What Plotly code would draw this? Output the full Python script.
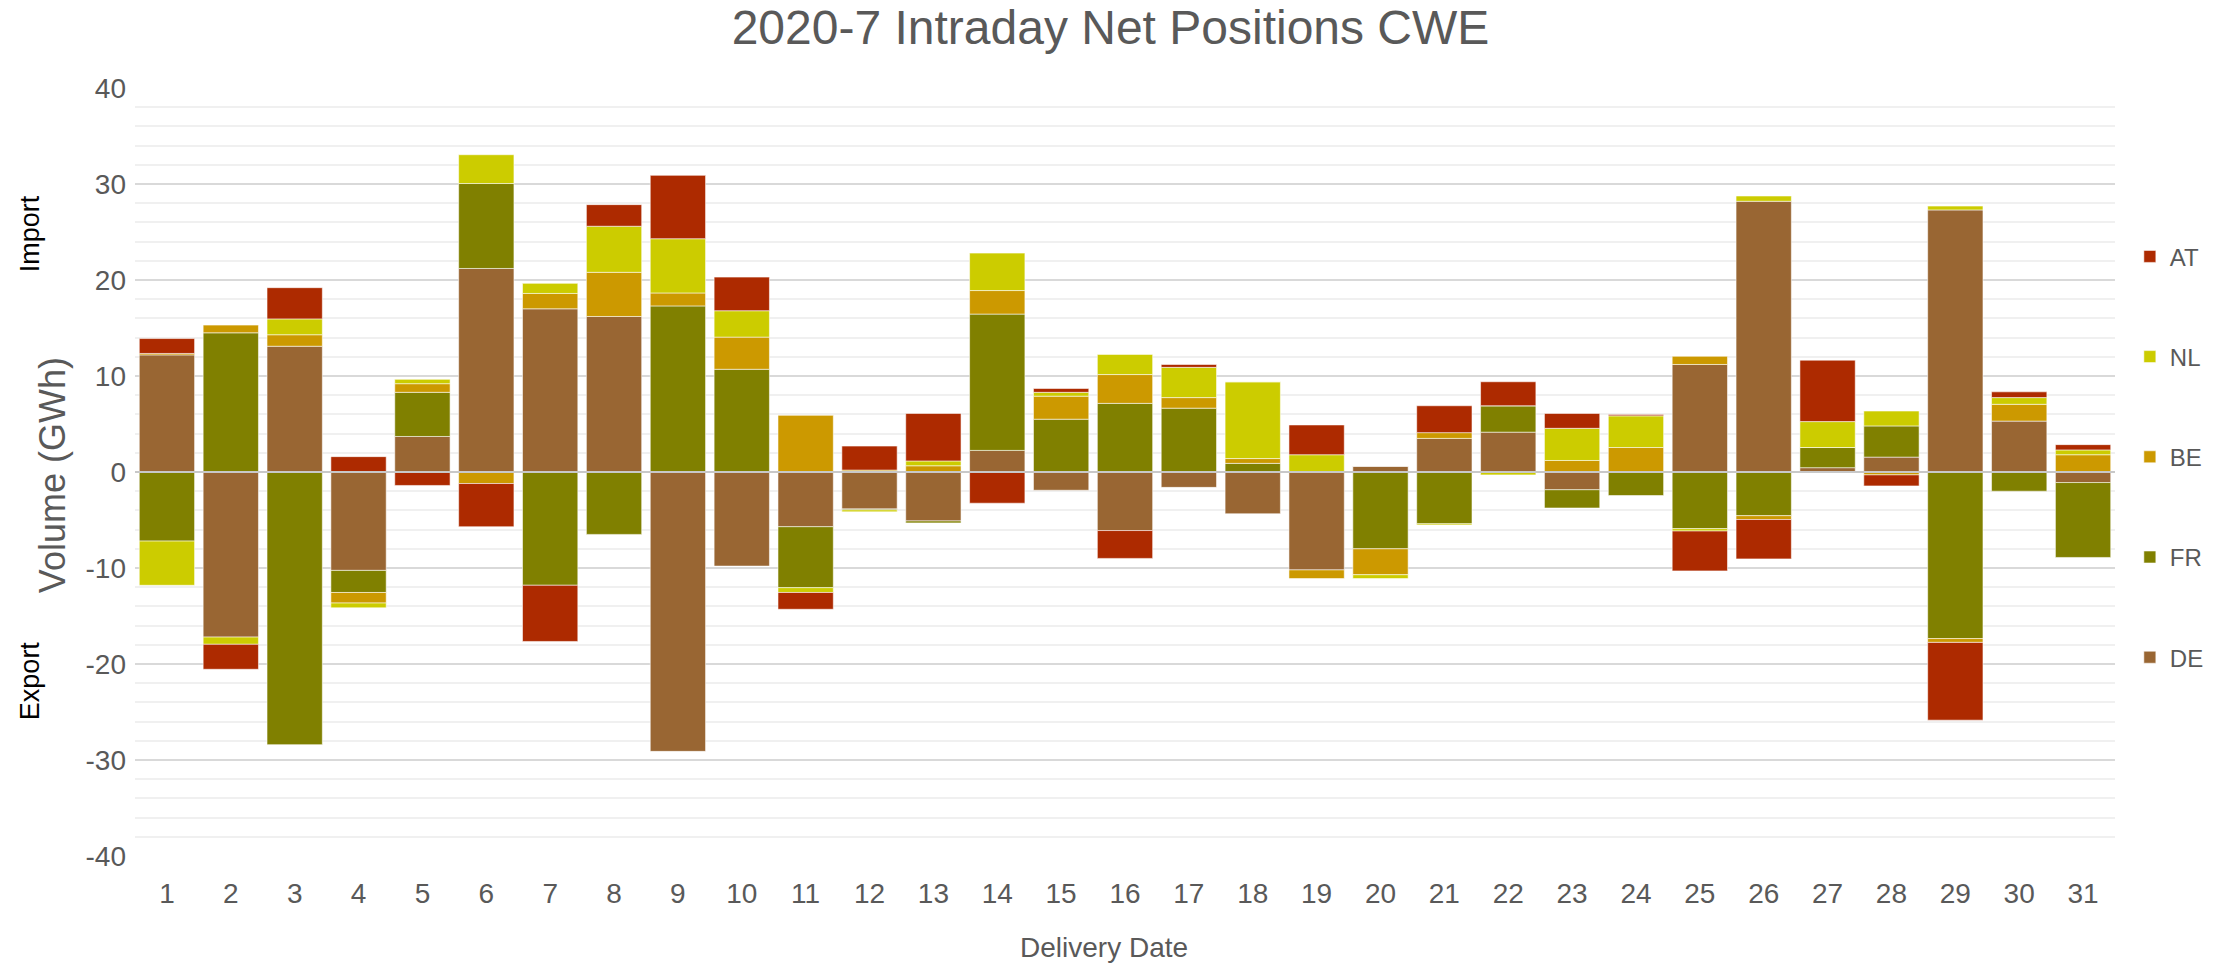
import plotly.graph_objects as go

days = list(range(1, 32))
day_labels = [str(d) for d in days]

DE = [12.2, -17.2, 13.1, -10.25, 3.7, 21.2, 17.0, 16.2, -29.1, -9.8,
      -5.7, -3.85, -5.1, 2.25, -1.9, -6.1, -1.6, -4.35, -10.2, 0.6,
      3.5, 4.15, -1.85, 0.0, 11.2, 28.2, 0.45, 1.55, 27.3, 5.3, -1.1]
FR = [-7.2, 14.5, -28.4, -2.3, 4.6, 8.85, -11.8, -6.5, 17.3, 10.7,
      -6.35, -0.1, -0.2, 14.2, 5.5, 7.15, 6.65, 0.9, 0.0, -8.0,
      -5.4, 2.75, -1.9, -2.45, -5.9, -4.55, 2.1, 3.25, -17.35, -2.0, -7.8]
BE = [0.15, 0.8, 1.2, -1.1, 0.9, -1.2, 1.6, 4.6, 1.35, 3.35,
      5.9, 0.2, 0.65, 2.45, 2.4, 3.0, 1.1, 0.5, -0.9, -2.7,
      0.6, 0.0, 1.2, 2.55, 0.85, -0.4, 0.0, -0.3, -0.4, 1.75, 1.8]
NL = [-4.6, -0.75, 1.65, -0.5, 0.45, 3.0, 1.05, 4.8, 5.65, 2.75,
      -0.5, -0.2, 0.5, 3.9, 0.4, 2.1, 3.15, 8.0, 1.8, -0.4,
      -0.12, -0.3, 3.35, 3.3, -0.25, 0.55, 2.7, 1.55, 0.4, 0.7, 0.5]
AT = [1.55, -2.6, 3.25, 1.6, -1.4, -4.5, -5.85, 2.25, 6.6, 3.5,
      -1.75, 2.5, 4.95, -3.25, 0.4, -2.9, 0.3, 0.0, 3.1, 0.0,
      2.8, 2.5, 1.55, 0.15, -4.15, -4.1, 6.4, -1.15, -8.1, 0.6, 0.55]

series = [("DE", DE, "#996633"), ("FR", FR, "#808000"), ("BE", BE, "#cc9900"),
          ("NL", NL, "#cccc00"), ("AT", AT, "#ad2a00")]

y_ticks = [-40, -30, -20, -10, 0, 10, 20, 30, 40]
y_tick_labels = ["-40", "-30", "-20", "-10", "0", "10", "20", "30", "40"]

FONT = "Liberation Sans, Arial, sans-serif"
GREY = "#595959"

fig = go.Figure()
n = len(series)
for i, (name, vals, col) in enumerate(series):
    fig.add_trace(go.Bar(
        x=days, y=vals, name=name, legendgroup=name, legendrank=n - i,
        marker=dict(color=col, line=dict(color="rgba(255,255,255,0.55)", width=1)),
    ))

fig.update_layout(
    width=2221, height=964,
    barmode="relative", bargap=0.134,
    plot_bgcolor="white", paper_bgcolor="white",
    margin=dict(l=135, r=103, t=88, b=108),
    font=dict(family=FONT, color=GREY),
    title=dict(text="2020-7 Intraday Net Positions CWE", x=0.5, xanchor="center",
               xref="container", yref="container", y=1 - 27 / 964, yanchor="middle",
               font=dict(size=48, color=GREY, family=FONT)),
    legend=dict(traceorder="grouped", tracegroupgap=66, x=1.0075, xanchor="left",
                y=0.8095, yanchor="top", font=dict(size=24, color=GREY),
                bgcolor="rgba(0,0,0,0)"),
    xaxis=dict(range=[0.5, 31.5], tickvals=days, ticktext=day_labels, showgrid=False,
               zeroline=False, tickfont=dict(size=28, color=GREY), ticklabelstandoff=18,
               fixedrange=True),
    yaxis=dict(range=[-40, 40], tickvals=y_ticks, ticktext=y_tick_labels, showgrid=True,
               gridcolor="#d9d9d9", gridwidth=2, zeroline=False,
               tickfont=dict(size=28, color=GREY), ticklabelstandoff=8,
               minor=dict(dtick=2, showgrid=True, gridcolor="#f0f0f0", gridwidth=1.5)),
    shapes=[dict(type="line", xref="paper", x0=0, x1=1, yref="y", y0=0, y1=0,
                 line=dict(color="#c8c8c8", width=2), layer="above")],
    annotations=[
        dict(text="Volume (GWh)", textangle=-90, xref="paper", yref="paper",
             x=(52 - 135) / 1983, y=(856 - 475) / 768, xanchor="center", yanchor="middle",
             showarrow=False, font=dict(size=36, color=GREY, family=FONT)),
        dict(text="Import", textangle=-90, xref="paper", yref="paper",
             x=(30 - 135) / 1983, y=(856 - 234) / 768, xanchor="center", yanchor="middle",
             showarrow=False, font=dict(size=27, color="black", family=FONT)),
        dict(text="Export", textangle=-90, xref="paper", yref="paper",
             x=(30 - 135) / 1983, y=(856 - 681) / 768, xanchor="center", yanchor="middle",
             showarrow=False, font=dict(size=27, color="black", family=FONT)),
        dict(text="Delivery Date", xref="paper", yref="paper",
             x=(1105 - 135) / 1983, y=(856 - 947) / 768, xanchor="center", yanchor="middle",
             showarrow=False, font=dict(size=28, color=GREY, family=FONT)),
    ],
)

fig.write_html("out.html", config={"displayModeBar": False},
               post_script="document.body.style.margin='0';document.body.style.overflow='hidden';")
